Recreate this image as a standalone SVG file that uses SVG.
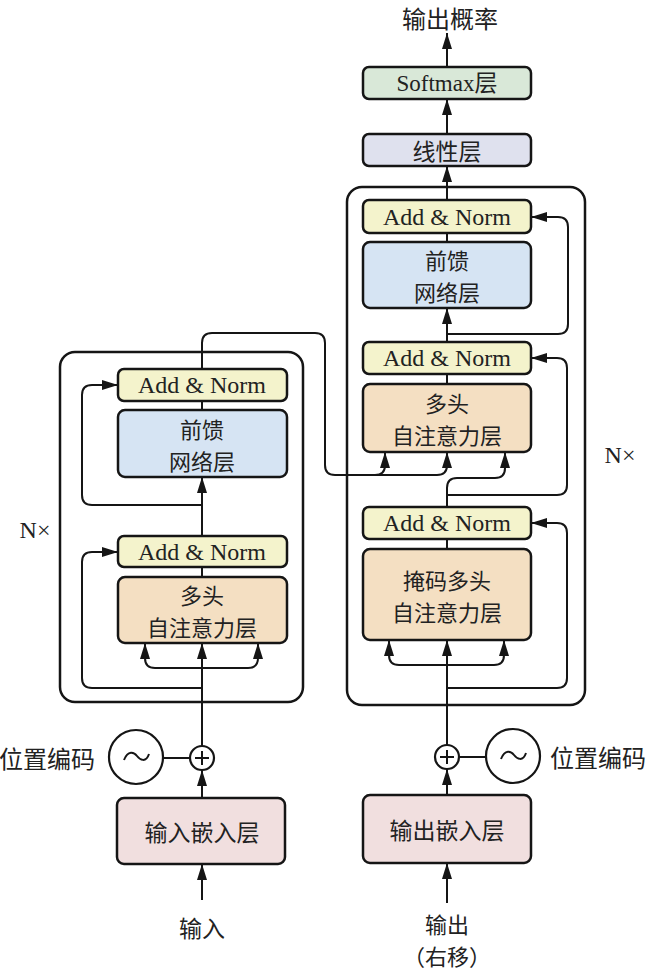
<svg xmlns="http://www.w3.org/2000/svg" width="647" height="971" viewBox="0 0 647 971">
<style>
.box{stroke:#151515;stroke-width:2.5}
.an{fill:#f4f3cc}
.ffn{fill:#d6e4f3}
.att{fill:#f4dfc2}
.emb{fill:#f1dfdf}
.sm{fill:#d9e8d8}
.lin{fill:#dfe1ee}
.frame{fill:none;stroke:#151515;stroke-width:2.5}
.ln{fill:none;stroke:#151515;stroke-width:2}
.t{font-family:"Noto Sans CJK SC","Liberation Serif",serif;font-size:23px;fill:#222;text-anchor:middle;dominant-baseline:central}
.t2{font-size:22px}
.e{font-family:"Liberation Serif","Noto Sans CJK SC",serif;font-size:24px;fill:#222;text-anchor:middle;dominant-baseline:central}
</style>
<defs>
<marker id="ah" markerUnits="userSpaceOnUse" viewBox="0 0 16 10" refX="16" refY="5" markerWidth="16" markerHeight="10" orient="auto">
<path d="M0,0 L16,5 L0,10 z" fill="#151515"/>
</marker>
</defs>
<rect width="647" height="971" fill="#ffffff"/>

<g id="frames">
<rect class="frame" x="60" y="352" width="243" height="350" rx="15"/>
<rect class="frame" x="347" y="187" width="238" height="518" rx="15"/>
</g>

<g id="connectors">
<path class="ln" d="M447,200 L447,166" marker-end="url(#ah)"/>
<path class="ln" d="M447,134 L447,99" marker-end="url(#ah)"/>
<path class="ln" d="M447,67 L447,33" marker-end="url(#ah)"/>
<path class="ln" d="M447,242 L447,233"/>
<path class="ln" d="M447,342 L447,308" marker-end="url(#ah)"/>
<path class="ln" d="M447,334 L558,334 Q568,334 568,324 L568,227 Q568,217 558,217 L531,217" marker-end="url(#ah)"/>
<path class="ln" d="M447,384 L447,374"/>
<path class="ln" d="M447,495 L557,495 Q567,495 567,485 L567,368 Q567,358 557,358 L531,358" marker-end="url(#ah)"/>
<path class="ln" d="M447,507 L447,488 Q447,478 457,478 L495,478 Q505,478 505,468 L505,452" marker-end="url(#ah)"/>
<path class="ln" d="M447,549 L447,539"/>
<path class="ln" d="M447,688 L557,688 Q567,688 567,678 L567,533 Q567,523 557,523 L531,523" marker-end="url(#ah)"/>
<path class="ln" d="M447,745 L447,640" marker-end="url(#ah)"/>
<path class="ln" d="M447,665 L399,665 Q389,665 389,655 L389,640" marker-end="url(#ah)"/>
<path class="ln" d="M447,665 L494,665 Q504,665 504,655 L504,640" marker-end="url(#ah)"/>
<path class="ln" d="M447,795 L447,769" marker-end="url(#ah)"/>
<path class="ln" d="M447,903 L447,863" marker-end="url(#ah)"/>
<path class="ln" d="M459,757 L486,757"/>
<path class="ln" d="M202,746 L202,643" marker-end="url(#ah)"/>
<path class="ln" d="M202,668 L155,668 Q145,668 145,658 L145,643" marker-end="url(#ah)"/>
<path class="ln" d="M202,668 L248,668 Q258,668 258,658 L258,643" marker-end="url(#ah)"/>
<path class="ln" d="M202,688 L92,688 Q82,688 82,678 L82,562 Q82,552 92,552 L118,552" marker-end="url(#ah)"/>
<path class="ln" d="M202,577 L202,567"/>
<path class="ln" d="M202,536 L202,477" marker-end="url(#ah)"/>
<path class="ln" d="M202,505 L92,505 Q82,505 82,495 L82,395 Q82,385 92,385 L118,385" marker-end="url(#ah)"/>
<path class="ln" d="M202,410 L202,401"/>
<path class="ln" d="M202,369 L202,343 Q202,333 212,333 L315,333 Q325,333 325,343 L325,465 Q325,475 335,475 L437,475 Q447,475 447,465 L447,452" marker-end="url(#ah)"/>
<path class="ln" d="M375,475 Q385,475 385,465 L385,452" marker-end="url(#ah)"/>
<path class="ln" d="M202,798 L202,770" marker-end="url(#ah)"/>
<path class="ln" d="M202,900 L202,864" marker-end="url(#ah)"/>
<path class="ln" d="M163,758 L190,758"/>
</g>

<g id="out-title"><text class="t" x="450" y="17" style="font-size:24px">输出概率</text></g>

<g id="softmax">
<rect class="box sm" x="363" y="67" width="168" height="32" rx="6"/>
<text class="e" x="447" y="83" style="font-size:23px">Softmax层</text>
</g>
<g id="linear">
<rect class="box lin" x="363" y="134" width="168" height="32" rx="6"/>
<text class="t" x="447" y="150">线性层</text>
</g>

<g id="dec-addnorm3">
<rect class="box an" x="363" y="200" width="168" height="33" rx="6"/>
<text class="e" x="447" y="216.5">Add &amp; Norm</text>
</g>
<g id="dec-ffn">
<rect class="box ffn" x="363" y="242" width="168" height="66" rx="7"/>
<text class="t t2" x="447" y="259">前馈</text>
<text class="t t2" x="447" y="291">网络层</text>
</g>
<g id="dec-addnorm2">
<rect class="box an" x="363" y="342" width="168" height="32" rx="6"/>
<text class="e" x="447" y="358">Add &amp; Norm</text>
</g>
<g id="dec-cross-att">
<rect class="box att" x="363" y="384" width="168" height="68" rx="7"/>
<text class="t t2" x="447" y="402">多头</text>
<text class="t t2" x="447" y="434">自注意力层</text>
</g>
<g id="dec-addnorm1">
<rect class="box an" x="363" y="507" width="168" height="32" rx="6"/>
<text class="e" x="447" y="523">Add &amp; Norm</text>
</g>
<g id="dec-masked-att">
<rect class="box att" x="363" y="549" width="168" height="91" rx="7"/>
<text class="t t2" x="447" y="578.5">掩码多头</text>
<text class="t t2" x="447" y="610.5">自注意力层</text>
</g>

<g id="enc-addnorm2">
<rect class="box an" x="118" y="369" width="169" height="32" rx="6"/>
<text class="e" x="202" y="385">Add &amp; Norm</text>
</g>
<g id="enc-ffn">
<rect class="box ffn" x="118" y="410" width="169" height="67" rx="7"/>
<text class="t t2" x="202" y="427.5">前馈</text>
<text class="t t2" x="202" y="459.5">网络层</text>
</g>
<g id="enc-addnorm1">
<rect class="box an" x="118" y="536" width="169" height="31" rx="6"/>
<text class="e" x="202" y="551.5">Add &amp; Norm</text>
</g>
<g id="enc-att">
<rect class="box att" x="118" y="577" width="169" height="66" rx="7"/>
<text class="t t2" x="202" y="594">多头</text>
<text class="t t2" x="202" y="626">自注意力层</text>
</g>

<g id="enc-plus">
<circle cx="202" cy="758" r="12" fill="#fff" stroke="#151515" stroke-width="2.2"/>
<path class="ln" d="M202,751 L202,765 M195,758 L209,758" stroke-width="1.5"/>
</g>
<g id="enc-pos">
<circle cx="136" cy="757" r="27" fill="#fff" stroke="#151515" stroke-width="2.2"/>
<path class="ln" d="M124,760 C128,750 134,752 137,756 C140,760 146,763 149,754" stroke-width="1.8"/>
<text class="t" x="47" y="757" style="font-size:24px">位置编码</text>
</g>
<g id="enc-embed">
<rect class="box emb" x="117" y="798" width="168" height="66" rx="7"/>
<text class="t" x="202" y="831">输入嵌入层</text>
</g>
<g id="enc-input"><text class="t" x="202" y="927">输入</text></g>

<g id="dec-plus">
<circle cx="447" cy="757" r="12" fill="#fff" stroke="#151515" stroke-width="2.2"/>
<path class="ln" d="M447,750 L447,764 M440,757 L454,757" stroke-width="1.5"/>
</g>
<g id="dec-pos">
<circle cx="513" cy="756" r="27" fill="#fff" stroke="#151515" stroke-width="2.2"/>
<path class="ln" d="M501,759 C505,749 511,751 514,755 C517,759 523,762 526,753" stroke-width="1.8"/>
<text class="t" x="598" y="756" style="font-size:24px">位置编码</text>
</g>
<g id="dec-embed">
<rect class="box emb" x="363" y="795" width="168" height="68" rx="7"/>
<text class="t" x="447" y="829">输出嵌入层</text>
</g>
<g id="dec-output">
<text class="t t2" x="447" y="923">输出</text>
<text class="t t2" x="447" y="955">（右移）</text>
</g>

<g id="labels">
<text class="e" x="35" y="530">N×</text>
<text class="e" x="620" y="455">N×</text>
</g>
</svg>
